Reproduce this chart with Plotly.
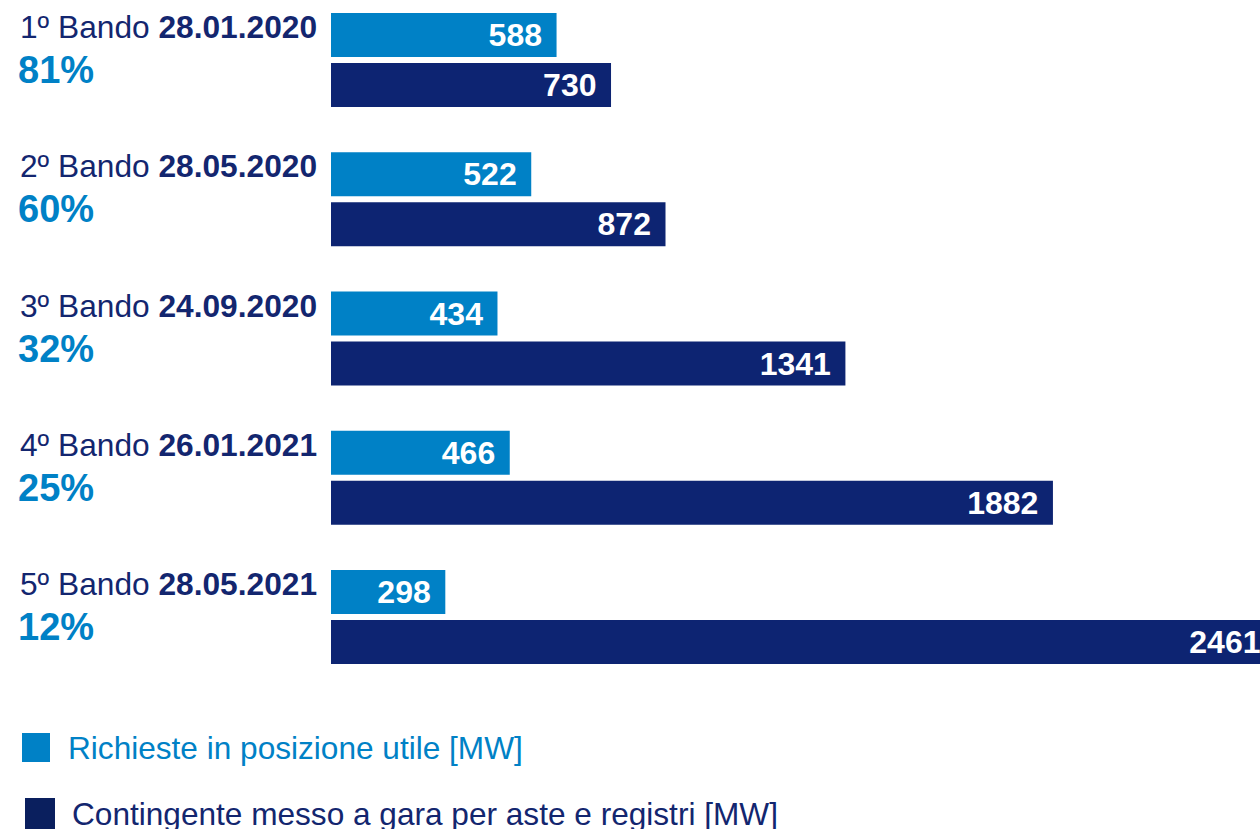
import plotly.graph_objects as go

# ---- data ----
bandi = ["1º Bando", "2º Bando", "3º Bando", "4º Bando", "5º Bando"]
date = ["28.01.2020", "28.05.2020", "24.09.2020", "26.01.2021", "28.05.2021"]
percentuali = ["81%", "60%", "32%", "25%", "12%"]
richieste = [588, 522, 434, 466, 298]
contingente = [730, 872, 1341, 1882, 2461]
serie_nomi = ["Richieste in posizione utile [MW]",
              "Contingente messo a gara per aste e registri [MW]"]

# ---- style ----
LIGHT = "#0081C6"
NAVY = "#0D2472"
NAVY_TXT = "#13266F"
FONT = "Liberation Sans, Arial, sans-serif"
W, H = 1290, 829          # figure slightly wider than the 1260 window (last bar runs off the edge)
PLOT_L = 331
X_MAX = 2500

fig = go.Figure()
for name, vals, col in [(serie_nomi[0], richieste, LIGHT),
                        (serie_nomi[1], contingente, NAVY)]:
    fig.add_trace(go.Bar(
        y=bandi, x=vals, name=name, orientation="h",
        marker=dict(color=col, line=dict(width=0)),
        texttemplate="<b>%{x}</b>\u00a0\u200a",
        textposition="inside", insidetextanchor="end",
        textfont=dict(family=FONT, size=32, color="white"),
        cliponaxis=False, showlegend=False,
    ))

# category labels
for b, d, p in zip(bandi, date, percentuali):
    fig.add_annotation(xref="paper", yref="y", x=18 / W, y=b,
                       xanchor="left", yanchor="middle", yshift=33,
                       text=f"{b} <b>{d}</b>", showarrow=False,
                       font=dict(family=FONT, size=31.7, color=NAVY_TXT))
    fig.add_annotation(xref="paper", yref="y", x=16 / W, y=b,
                       xanchor="left", yanchor="middle", yshift=-10,
                       text=f"<b>{p}</b>", showarrow=False,
                       font=dict(family=FONT, size=38, color=LIGHT))

# custom legend
leg = [(serie_nomi[0], LIGHT, LIGHT, (22, 50, 733, 762), (66, 748)),
       (serie_nomi[1], "#0A1F5E", NAVY_TXT, (25, 55, 798, 835), (70, 814))]
for name, sq, tc, (x0, x1, y0, y1), (tx, ty) in leg:
    fig.add_shape(type="rect", xref="paper", yref="paper",
                  x0=x0 / W, x1=x1 / W, y0=1 - y1 / H, y1=1 - y0 / H,
                  fillcolor=sq, line=dict(width=0))
    fig.add_annotation(xref="paper", yref="paper", x=tx / W, y=1 - ty / H,
                       xanchor="left", yanchor="middle", text=name,
                       showarrow=False,
                       font=dict(family=FONT, size=31.6, color=tc))

fig.update_layout(
    width=W, height=H,
    margin=dict(l=0, r=0, t=0, b=0),
    plot_bgcolor="white", paper_bgcolor="white",
    barmode="group", bargap=0.2819, bargroupgap=0.12,
    xaxis=dict(domain=[PLOT_L / W, 1], range=[0, X_MAX], visible=False,
               showgrid=False, zeroline=False),
    yaxis=dict(range=[5.522, -0.431], visible=False, showgrid=False,
               categoryorder="array", categoryarray=bandi),
)

fig.write_html("out.html",
               config={"displayModeBar": False},
               post_script="document.body.style.margin='0';"
                           "document.body.style.overflow='hidden';")
